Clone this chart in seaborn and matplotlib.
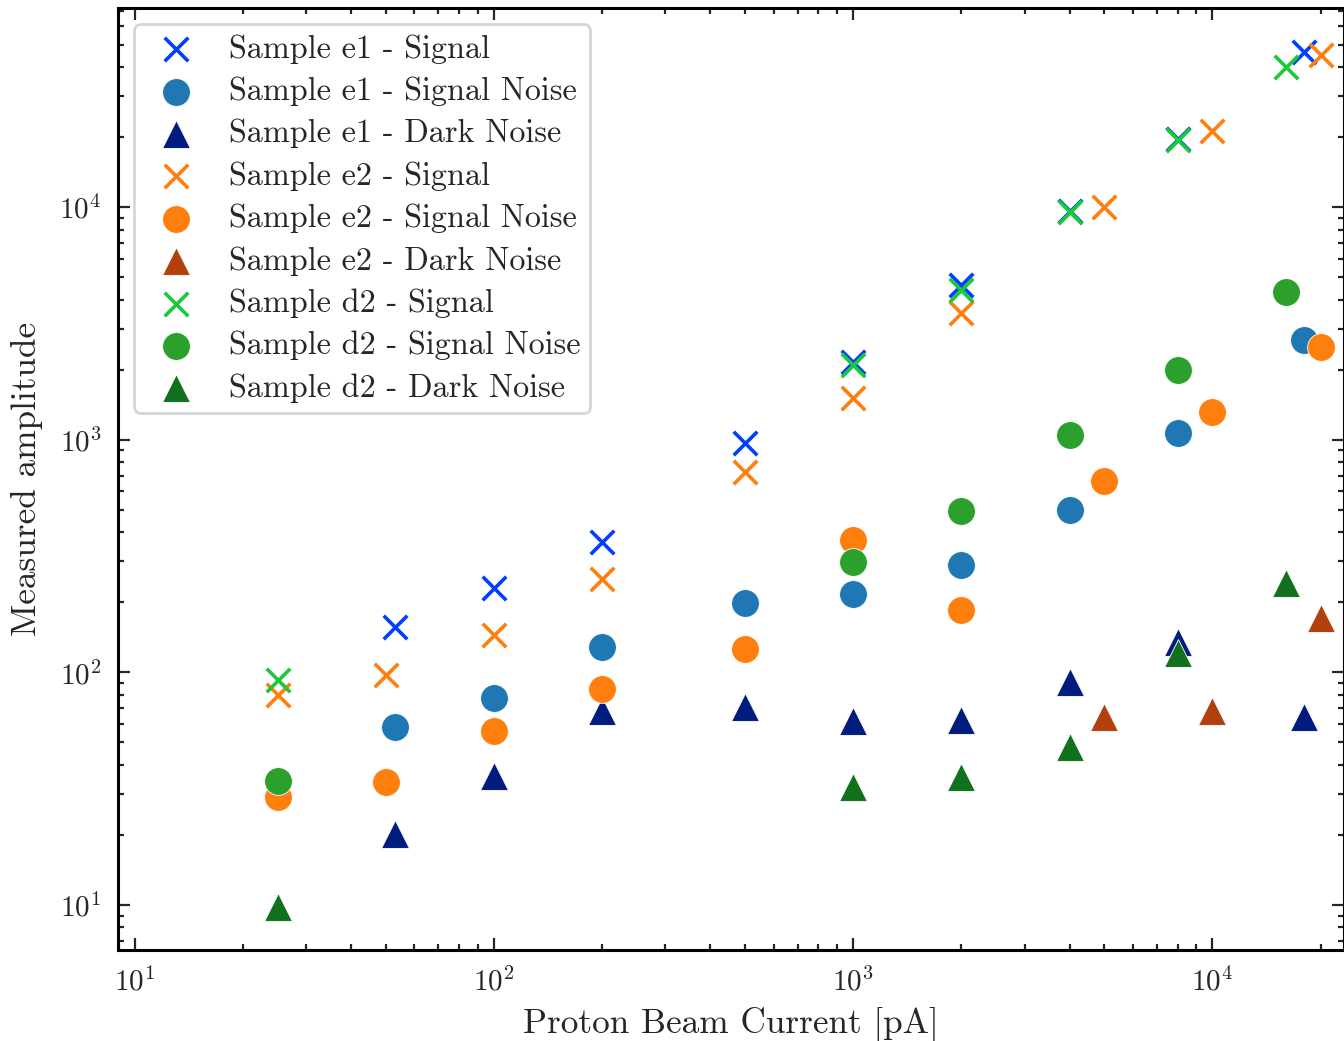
import seaborn as sns
import matplotlib.pyplot as plt
import pandas as pd

# Proton beam current [pA] and measured amplitudes

# Sample e1
e1_current = [53, 100, 200, 500, 1000, 2000, 4000, 8000, 18000]
e1_signal = [157, 231, 363, 968, 2160, 4650, 9600, 19600, 46400]
e1_sig_noise = [58.3, 77.6, 128.5, 198, 218, 289, 499, 1070, 2690]
e1_dark_noise = [20.2, 35.9, 68.2, 71, 61.8, 62.3, 91, 135, 64]

# Sample e2
e2_current = [25, 50, 100, 200, 500, 1000, 2000, 5000, 10000, 20000]
e2_signal = [80, 97.5, 145, 252, 726, 1510, 3500, 10000, 21200, 45000]
e2_sig_noise = [29.1, 33.8, 56, 84.8, 126, 371, 185, 664, 1315, 2500]
e2_dark_current = [5000, 10000, 20000]
e2_dark_noise = [64.3, 68.2, 171]

# Sample d2
d2_current = [25, 1000, 2000, 4000, 8000, 16000]
d2_signal = [93, 2100, 4400, 9500, 19400, 40000]
d2_sig_noise = [34.2, 298, 494, 1047, 1993, 4313]
d2_dark_noise = [9.8, 32.2, 35.5, 47.7, 121, 242]

sns.set_style('ticks')
plt.rcParams['font.family'] = 'serif'
plt.rcParams['font.serif'] = ['cmr10', 'DejaVu Serif']
plt.rcParams['mathtext.fontset'] = 'cm'
plt.rcParams['axes.formatter.use_mathtext'] = True
plt.rcParams['axes.unicode_minus'] = False

# (label, x, y, color, marker)
series = [
    ('Sample e1 - Signal', e1_current, e1_signal, '#023eff', 'x'),
    ('Sample e1 - Signal Noise', e1_current, e1_sig_noise, '#1f77b4', 'o'),
    ('Sample e1 - Dark Noise', e1_current, e1_dark_noise, '#001c7f', '^'),
    ('Sample e2 - Signal', e2_current, e2_signal, '#ff7f0e', 'x'),
    ('Sample e2 - Signal Noise', e2_current, e2_sig_noise, '#ff7f0e', 'o'),
    ('Sample e2 - Dark Noise', e2_dark_current, e2_dark_noise, '#b1400d', '^'),
    ('Sample d2 - Signal', d2_current, d2_signal, '#1ac938', 'x'),
    ('Sample d2 - Signal Noise', d2_current, d2_sig_noise, '#2ca02c', 'o'),
    ('Sample d2 - Dark Noise', d2_current, d2_dark_noise, '#12711c', '^'),
]

fig = plt.figure(figsize=(6.72, 5.205), dpi=200)
ax = fig.add_axes([0.0878, 0.0874, 0.912, 0.9046])

for label, x, y, color, marker in series:
    df = pd.DataFrame({'current': x, 'amplitude': y})
    if marker == 'x':
        sns.scatterplot(data=df, x='current', y='amplitude', ax=ax, color=color,
                        marker=marker, s=72, linewidth=1.3, label=label)
    else:
        sns.scatterplot(data=df, x='current', y='amplitude', ax=ax, color=color,
                        marker=marker, s=100, edgecolor='white', linewidth=0.3,
                        label=label)

ax.set_xscale('log')
ax.set_yscale('log')
ax.set_xlim(8.97, 23200)
ax.set_ylim(6.4, 71600)

ax.set_xlabel('Proton Beam Current [pA]', fontsize=12.7)
ax.set_ylabel('Measured amplitude', fontsize=12.7, labelpad=6)

# inward ticks on all four sides
ax.tick_params(which='both', direction='in', top=True, right=True, width=0.8)
ax.tick_params(which='major', length=4.3, labelsize=10.5, pad=6)
ax.tick_params(which='minor', length=2.2)
for sp in ax.spines.values():
    sp.set_linewidth(1.1)
    sp.set_color('black')

ax.legend(loc='upper left', fontsize=11.6, labelspacing=0.40, handletextpad=0.65,
          borderaxespad=0.5, borderpad=0.3, frameon=True, fancybox=True,
          edgecolor='0.8', framealpha=0.8)

fig.savefig('out.png', dpi=200)
